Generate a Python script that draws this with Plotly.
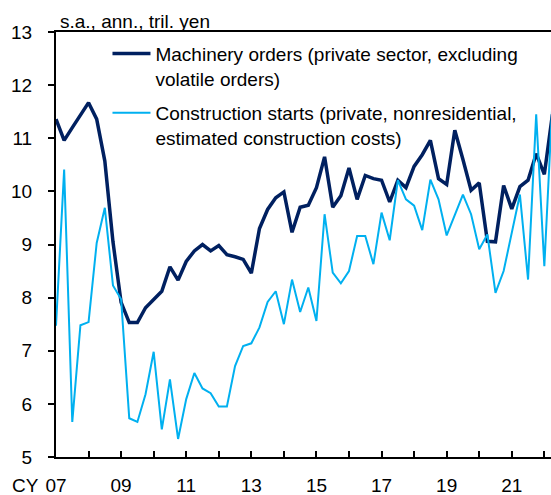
import plotly.graph_objects as go

# Quarterly data, 2007Q1 .. 2022Q2 (s.a., ann., tril. yen)
start_year = 2007
machinery = [11.36, 10.96, 11.20, 11.43, 11.67, 11.36, 10.57, 9.05,
             7.91, 7.53, 7.53, 7.81, 7.97, 8.12, 8.58, 8.33,
             8.68, 8.88, 9.00, 8.88, 8.98, 8.81, 8.77, 8.72,
             8.46, 9.30, 9.66, 9.88, 9.99, 9.23, 9.70, 9.74,
             10.07, 10.65, 9.70, 9.92, 10.44, 9.85, 10.30, 10.24,
             10.21, 9.80, 10.21, 10.07, 10.47, 10.69, 10.96, 10.24,
             10.13, 11.15, 10.60, 10.02, 10.16, 9.06, 9.05, 10.11,
             9.67, 10.09, 10.21, 10.71, 10.32, 11.45]
construction = [7.47, 10.41, 5.66, 7.48, 7.54, 9.03, 9.69, 8.23,
                7.97, 5.73, 5.66, 6.18, 6.98, 5.52, 6.46, 5.34,
                6.09, 6.58, 6.29, 6.20, 5.95, 5.95, 6.71, 7.09,
                7.14, 7.44, 7.92, 8.12, 7.50, 8.34, 7.73, 8.19,
                7.56, 9.57, 8.47, 8.27, 8.50, 9.16, 9.16, 8.63,
                9.60, 9.08, 10.21, 9.85, 9.73, 9.27, 10.22, 9.85,
                9.17, 9.57, 9.94, 9.57, 8.91, 9.19, 8.09, 8.50,
                9.19, 9.94, 8.34, 11.45, 8.59, 11.70]

tick_years = list(range(2007, 2024))
tick_labels = ["07", "", "09", "", "11", "", "13", "", "15", "", "17", "", "19", "", "21", "", "23"]

x = [start_year + i / 4 for i in range(len(machinery))]

FONT = "Arial, Liberation Sans, sans-serif"
DARK = "#002060"
LIGHT = "#00B0F0"

fig = go.Figure()
fig.add_trace(go.Scatter(
    x=x, y=machinery, mode="lines",
    name="Machinery orders (private sector, excluding<br>volatile orders)",
    line=dict(color=DARK, width=3.5), legendgroup="a"))
fig.add_trace(go.Scatter(
    x=x, y=construction, mode="lines",
    name="Construction starts (private, nonresidential,<br>estimated construction costs)",
    line=dict(color=LIGHT, width=2), legendgroup="b"))

fig.update_layout(
    width=551, height=495,
    margin=dict(l=56, r=0, t=32, b=38, autoexpand=False),
    paper_bgcolor="white", plot_bgcolor="white",
    font=dict(family=FONT, size=19, color="black"),
    showlegend=True,
    legend=dict(x=0.104, y=0.994, xanchor="left", yanchor="top",
                bgcolor="rgba(0,0,0,0)", borderwidth=0,
                font=dict(family=FONT, size=19, color="black"),
                valign="top", itemwidth=38, tracegroupgap=7,
                traceorder="grouped"),
    xaxis=dict(range=[2007, 2007 + 60.82 / 4], tickvals=tick_years, ticktext=tick_labels,
               ticks="inside", ticklen=6, tickwidth=2, tickcolor="black",
               showline=True, linecolor="black", linewidth=2, mirror=True,
               showgrid=False, zeroline=False, ticklabelstandoff=10, automargin=False,
               tickfont=dict(family=FONT, size=19, color="black")),
    yaxis=dict(range=[5, 13], dtick=1, ticks="outside", ticklen=6, tickwidth=2,
               tickcolor="black", showline=True, linecolor="black", linewidth=2,
               showgrid=False, zeroline=False, ticklabelstandoff=12, automargin=False,
               tickfont=dict(family=FONT, size=19, color="black")),
    annotations=[
        dict(text="s.a., ann., tril. yen", xref="paper", yref="paper", x=0, y=1,
             xanchor="left", yanchor="bottom", xshift=2, yshift=-2, showarrow=False,
             font=dict(family=FONT, size=19, color="black")),
        dict(text="CY", xref="x", yref="paper", x=2007, y=0,
             xanchor="right", yanchor="middle", xshift=-15, yshift=-28, showarrow=False,
             font=dict(family=FONT, size=19, color="black")),
    ],
)

fig.write_html(
    "out.html",
    config={"responsive": False, "displayModeBar": False},
    post_script="document.body.style.margin='0';document.body.style.overflow='hidden';",
)
